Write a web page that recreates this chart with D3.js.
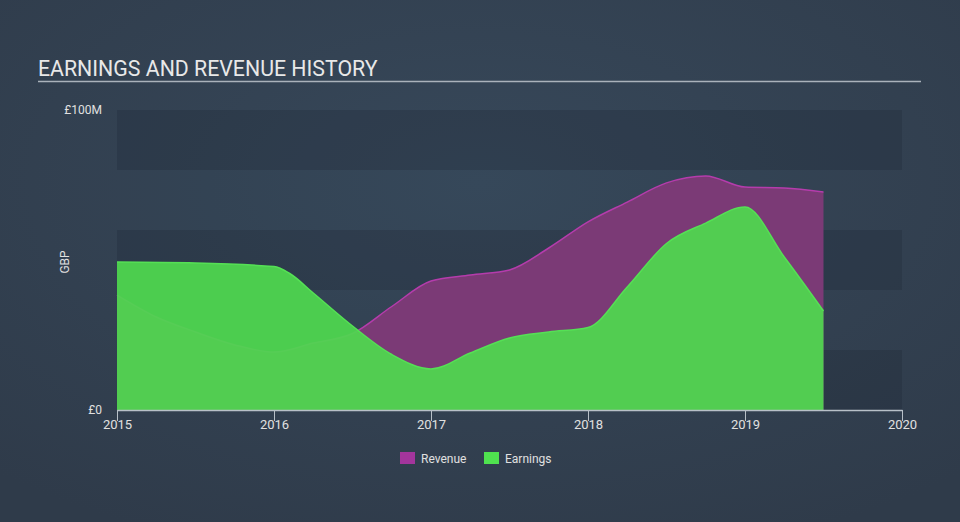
<!DOCTYPE html>
<html><head><meta charset="utf-8">
<script src="https://cdn.jsdelivr.net/npm/d3@7"></script>
<style>
html,body{margin:0;padding:0;background:#323f4f;}
svg{display:block;font-family:Roboto,"Open Sans",sans-serif;}
</style></head>
<body><svg id="c" width="960" height="522"></svg>
<script>
const years = [2015,2016,2017,2018,2019,2020];
const yTickLabels = ["£0","£100M"];
const revenueDates = [2015.0,2015.25,2015.5,2015.75,2016.0,2016.25,2016.5,2016.75,2017.0,2017.25,2017.5,2017.75,2018.0,2018.25,2018.5,2018.75,2019.0,2019.25,2019.5];
const revenueValues = [38.3,31,26,21.7,19.3,22.3,25.5,34.5,43,45,46.7,54,62.7,69.3,75.7,78,74.3,74,72.7];
const earningsDates = [2015.0,2015.5,2016.0,2016.1,2016.25,2016.5,2016.75,2017.0,2017.25,2017.5,2017.75,2018.0,2018.25,2018.5,2018.75,2019.0,2019.25,2019.5];
const earningsValues = [49.3,49.0,47.8,45.5,39,28,18.5,13.7,19,24,26,27.5,41,55.5,62.3,67.7,51,33];

const svg = d3.select("#c");
const W=960,H=522;
const defs = svg.append("defs");
const g0 = defs.append("radialGradient").attr("id","bg").attr("cx","50%").attr("cy","35%").attr("r","75%");
g0.append("stop").attr("offset","0%").attr("stop-color","#37485a");
g0.append("stop").attr("offset","100%").attr("stop-color","#2f3b4a");
svg.append("rect").attr("width",W).attr("height",H).attr("fill","url(#bg)");

const x = d3.scaleLinear().domain([2015,2020]).range([117,902]);
const y = d3.scaleLinear().domain([0,100]).range([410,110]);

// bands
const bands = d3.range(0,100,20);
svg.append("g").selectAll("rect").data(bands).join("rect")
  .attr("x",x(2015)).attr("width",x(2020)-x(2015))
  .attr("y",d=>y(d+20)).attr("height",d=>y(d)-y(d+20))
  .attr("fill",(d,i)=> i%2===0 ? "rgba(22,32,46,0.22)" : "rgba(60,80,100,0.04)");

// title
svg.append("text").attr("x",38).attr("y",76).attr("fill","#e8e8e8")
  .attr("font-size",21.3).text("EARNINGS AND REVENUE HISTORY");
svg.append("line").attr("x1",38).attr("x2",921).attr("y1",81.5).attr("y2",81.5)
  .attr("stroke","#aab2bb").attr("stroke-width",1.5);

// areas
const rev = revenueDates.map((d,i)=>({x:d,v:revenueValues[i]}));
const earn = earningsDates.map((d,i)=>({x:d,v:earningsValues[i]}));
const area = d3.area().x(d=>x(d.x)).y0(y(0)).y1(d=>y(d.v)).curve(d3.curveMonotoneX);
const line = d3.line().x(d=>x(d.x)).y(d=>y(d.v)).curve(d3.curveMonotoneX);

svg.append("path").datum(rev).attr("d",area).attr("fill","#7b3a76");
svg.append("path").datum(rev).attr("d",line).attr("fill","none").attr("stroke","#b53cac").attr("stroke-width",1.5);
svg.append("path").datum(earn).attr("d",area).attr("fill","#4fd84f").attr("fill-opacity",0.93);
svg.append("path").datum(earn).attr("d",line).attr("fill","none").attr("stroke","#55e055").attr("stroke-width",1.5);

// y labels
svg.append("text").attr("x",102).attr("y",y(100)+4).attr("text-anchor","end")
  .attr("fill","#e0e0e0").attr("font-size",12).text(yTickLabels[1]);
svg.append("text").attr("x",102).attr("y",y(0)+4).attr("text-anchor","end")
  .attr("fill","#e0e0e0").attr("font-size",12).text(yTickLabels[0]);
svg.append("text").attr("transform","translate(69,262) rotate(-90)").attr("text-anchor","middle")
  .attr("fill","#e0e0e0").attr("font-size",12).text("GBP");

// x axis
const xa = svg.append("g").attr("transform",`translate(0,${y(0)})`)
  .call(d3.axisBottom(x).tickValues(years).tickFormat(d3.format("d")).tickSize(11).tickSizeOuter(0));
xa.select(".domain").attr("stroke","#b8c0c8").attr("stroke-width",1.5);
xa.selectAll(".tick line").attr("stroke","#b8c0c8");
xa.selectAll(".tick text").attr("fill","#e0e0e0").attr("font-size",13).attr("font-family","Roboto,sans-serif").attr("dy","0.9em").attr("y",7);

// legend
const leg = [{n:"Revenue",c:"#a3359c"},{n:"Earnings",c:"#4fe24f"}];
const lx=[400,484];
leg.forEach((l,i)=>{
  svg.append("rect").attr("x",lx[i]).attr("y",452).attr("width",15).attr("height",12).attr("fill",l.c);
  svg.append("text").attr("x",lx[i]+21).attr("y",462.5).attr("fill","#e0e0e0").attr("font-size",12).text(l.n);
});
</script></body></html>
